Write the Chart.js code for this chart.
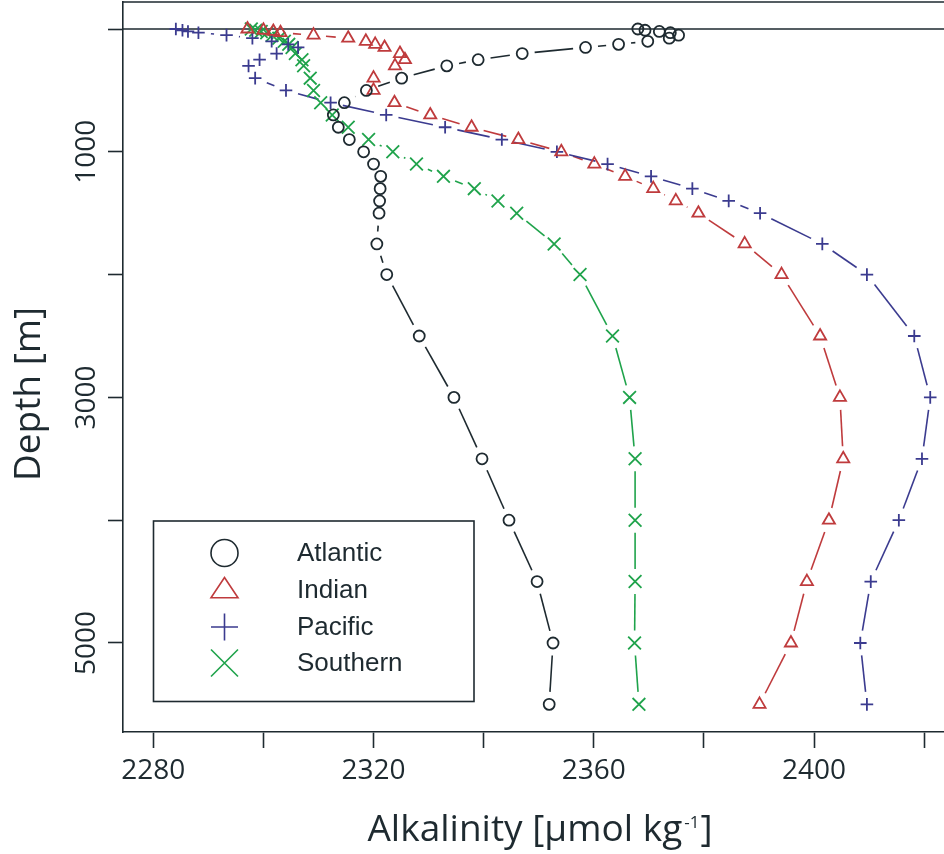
<!DOCTYPE html>
<html>
<head>
<meta charset="utf-8">
<title>Alkalinity profiles</title>
<script src="https://cdn.jsdelivr.net/npm/chart.js@4.4.1/dist/chart.umd.min.js"></script>
<style>
  html, body { margin: 0; padding: 0; background: #ffffff; }
  canvas { display: block; }
</style>
</head>
<body>
<canvas id="alkChart" width="944" height="854"></canvas>
<script>
// standard depth levels [m]
const depths = [0, 10, 20, 30, 50, 75, 100, 125, 150, 200, 250, 300, 400, 500, 600, 700, 800, 900,
  1000, 1100, 1200, 1300, 1400, 1500, 1750, 2000, 2500, 3000, 3500, 4000, 4500, 5000, 5500];

// alkalinity per basin [umol/kg]
const atlantic = [2368.0, 2369.3, 2371.9, 2373.9, 2375.4, 2373.7, 2369.8, 2364.5, 2358.5, 2347.0, 2339.0, 2333.3,
  2325.1, 2318.7, 2314.7, 2312.7, 2313.6, 2315.6, 2318.2, 2320.0, 2321.3, 2321.2, 2321.1, 2321.0, 2320.6, 2322.4,
  2328.3, 2334.6, 2339.7, 2344.6, 2349.7, 2352.6, 2351.9];
const indian = [2297.1, 2300.0, 2301.8, 2303.1, 2309.1, 2315.4, 2318.6, 2320.3, 2322.0, 2324.8, 2325.7, 2323.9,
  2320.0, 2320.0, 2323.8, 2330.3, 2337.8, 2346.3, 2354.1, 2360.1, 2365.7, 2370.8, 2374.9, 2379.0, 2387.4, 2394.1,
  2401.1, 2404.7, 2405.3, 2402.7, 2398.7, 2395.8, 2390.1];
const pacific = [2284.1, 2285.3, 2286.3, 2288.2, 2293.3, 2298.0, 2301.5, 2304.5, 2306.3, 2302.4, 2299.3, 2297.3,
  2298.5, 2304.1, 2312.2, 2322.3, 2333.0, 2343.3, 2353.3, 2362.5, 2370.4, 2377.9, 2384.5, 2390.2, 2401.5, 2409.6,
  2418.2, 2421.1, 2419.6, 2415.4, 2410.3, 2408.4, 2409.6];
const southern = [2297.8, 2298.6, 2299.6, 2300.6, 2301.6, 2302.8, 2303.8, 2304.6, 2305.2, 2305.8, 2307.0, 2307.3,
  2308.5, 2309.1, 2310.4, 2312.5, 2315.4, 2319.1, 2323.5, 2327.8, 2332.7, 2338.3, 2342.6, 2346.0, 2352.8, 2357.5,
  2363.4, 2366.5, 2367.5, 2367.5, 2367.5, 2367.4, 2368.2];

const seriesNames = ['Atlantic', 'Indian', 'Pacific', 'Southern'];

// axis ticks
const xTicks = [2280, 2300, 2320, 2340, 2360, 2380, 2400, 2420];
const xLabels = [2280, 2320, 2360, 2400];
const yTicks = [0, 1000, 2000, 3000, 4000, 5000];
const yLabels = [1000, 3000, 5000];
const surfaceDepth = 0;

const INK = '#1e2a30';
const TICK_FONT = '"Open Sans", "DejaVu Sans", sans-serif';
const LEGEND_FONT = '"Liberation Sans", Arial, sans-serif';
const GAP = 12.5; // R type="b" style gap around markers

function toPoints(values) {
  return values.map((v, i) => ({ x: v, y: depths[i] }));
}

const styles = [
  { color: '#1e2a30', pointStyle: 'circle', radius: 5.5 },
  { color: '#bf3b3d', pointStyle: 'triangle', radius: 7 },
  { color: '#3b3b8f', pointStyle: 'cross', radius: 6.3 },
  { color: '#1fa34b', pointStyle: 'crossRot', radius: 9 }
];

const allValues = [atlantic, indian, pacific, southern];

const datasets = allValues.map((vals, i) => ({
  label: seriesNames[i],
  data: toPoints(vals),
  showLine: false,
  borderColor: styles[i].color,
  backgroundColor: 'rgba(0,0,0,0)',
  pointStyle: styles[i].pointStyle,
  pointRadius: styles[i].radius,
  pointBorderWidth: 1.8,
  pointBorderColor: styles[i].color,
  pointBackgroundColor: 'rgba(0,0,0,0)'
}));

// line segments between points, shortened near each marker
const gappedLines = {
  id: 'gappedLines',
  beforeDatasetsDraw(chart) {
    const ctx = chart.ctx;
    const area = chart.chartArea;
    ctx.save();
    ctx.beginPath();
    ctx.rect(area.left, area.top, area.right - area.left, area.bottom - area.top);
    ctx.clip();
    chart.data.datasets.forEach((ds, i) => {
      const pts = chart.getDatasetMeta(i).data;
      ctx.strokeStyle = ds.borderColor;
      ctx.lineWidth = 1.6;
      for (let k = 0; k < pts.length - 1; k++) {
        const a = pts[k], b = pts[k + 1];
        const dx = b.x - a.x, dy = b.y - a.y;
        const len = Math.hypot(dx, dy);
        if (len <= 2 * GAP) continue;
        const ux = dx / len, uy = dy / len;
        ctx.beginPath();
        ctx.moveTo(a.x + ux * GAP, a.y + uy * GAP);
        ctx.lineTo(b.x - ux * GAP, b.y - uy * GAP);
        ctx.stroke();
      }
    });
    ctx.restore();
  }
};

// plot frame top + the surface line
const frame = {
  id: 'frame',
  beforeDatasetsDraw(chart) {
    const { ctx, chartArea: a, scales } = chart;
    const y0 = scales.y.getPixelForValue(surfaceDepth);
    ctx.save();
    ctx.strokeStyle = INK;
    ctx.lineWidth = 1.6;
    ctx.beginPath();
    ctx.moveTo(a.left, a.top);
    ctx.lineTo(a.right, a.top);
    ctx.moveTo(a.left, y0);
    ctx.lineTo(a.right, y0);
    ctx.stroke();
    ctx.restore();
  }
};

// axis titles (x title has a superscript)
const axisTitles = {
  id: 'axisTitles',
  afterDraw(chart) {
    const ctx = chart.ctx;
    ctx.save();
    ctx.fillStyle = INK;
    // y title
    ctx.translate(29, 394);
    ctx.rotate(-Math.PI / 2);
    ctx.font = '37px ' + TICK_FONT;
    ctx.textAlign = 'center';
    ctx.textBaseline = 'middle';
    ctx.fillText('Depth [m]', 0, 0);
    ctx.restore();

    ctx.save();
    ctx.fillStyle = INK;
    ctx.textBaseline = 'alphabetic';
    ctx.textAlign = 'left';
    const main = 'Alkalinity [μmol kg';
    const sup = '-1';
    const end = ']';
    ctx.font = '37px ' + TICK_FONT;
    const wMain = ctx.measureText(main).width;
    const wEnd = ctx.measureText(end).width;
    ctx.font = '17px ' + TICK_FONT;
    const wSup = ctx.measureText(sup).width;
    let x = 540 - (wMain + wSup + wEnd + 3) / 2;
    const base = 841;
    ctx.font = '37px ' + TICK_FONT;
    ctx.fillText(main, x, base);
    x += wMain + 2;
    ctx.font = '17px ' + TICK_FONT;
    ctx.fillText(sup, x, base - 13);
    x += wSup + 1;
    ctx.font = '37px ' + TICK_FONT;
    ctx.fillText(end, x, base);
    ctx.restore();
  }
};

function drawSymbol(ctx, style, x, y, r) {
  ctx.beginPath();
  if (style === 'circle') {
    ctx.arc(x, y, r, 0, Math.PI * 2);
  } else if (style === 'triangle') {
    const h = r * 1.5;
    ctx.moveTo(x, y - h * 0.62);
    ctx.lineTo(x + r, y + h * 0.38);
    ctx.lineTo(x - r, y + h * 0.38);
    ctx.closePath();
  } else if (style === 'cross') {
    ctx.moveTo(x - r, y); ctx.lineTo(x + r, y);
    ctx.moveTo(x, y - r); ctx.lineTo(x, y + r);
  } else {
    ctx.moveTo(x - r, y - r); ctx.lineTo(x + r, y + r);
    ctx.moveTo(x - r, y + r); ctx.lineTo(x + r, y - r);
  }
  ctx.stroke();
}

// boxed legend inside the plot, R style
const boxLegend = {
  id: 'boxLegend',
  afterDraw(chart) {
    const ctx = chart.ctx;
    const box = { left: 153.5, top: 521, right: 474, bottom: 701.5 };
    const rows = [553, 590, 627, 663];
    ctx.save();
    ctx.fillStyle = '#ffffff';
    ctx.fillRect(box.left, box.top, box.right - box.left, box.bottom - box.top);
    ctx.strokeStyle = INK;
    ctx.lineWidth = 1.6;
    ctx.strokeRect(box.left, box.top, box.right - box.left, box.bottom - box.top);
    chart.data.datasets.forEach((ds, i) => {
      ctx.strokeStyle = ds.borderColor;
      ctx.lineWidth = 1.6;
      drawSymbol(ctx, ds.pointStyle, 224.5, rows[i], 13.5);
      ctx.fillStyle = INK;
      ctx.font = '26px ' + LEGEND_FONT;
      ctx.textAlign = 'left';
      ctx.textBaseline = 'middle';
      ctx.fillText(ds.label, 297, rows[i] + 1);
    });
    ctx.restore();
  }
};

new Chart(document.getElementById('alkChart'), {
  type: 'scatter',
  data: { datasets },
  options: {
    responsive: false,
    animation: false,
    events: [],
    layout: { autoPadding: false, padding: { top: 2, right: 0, bottom: 0, left: 0 } },
    plugins: {
      legend: { display: false },
      tooltip: { enabled: false }
    },
    scales: {
      x: {
        type: 'linear',
        min: 2274.5,
        max: 2423.6,
        afterBuildTicks: axis => { axis.ticks = xTicks.map(v => ({ value: v })); },
        afterFit: axis => {
          axis.height = 122;
          axis.paddingLeft = 0;
          axis.paddingRight = 0;
        },
        grid: { display: true, drawOnChartArea: false, drawTicks: true, tickLength: 16, tickColor: INK, tickWidth: 1.6 },
        border: { display: true, color: INK, width: 1.6 },
        ticks: {
          autoSkip: false,
          maxRotation: 0,
          padding: 6,
          color: INK,
          font: { family: TICK_FONT, size: 28 },
          callback: v => xLabels.includes(v) ? String(v) : ''
        }
      },
      y: {
        type: 'linear',
        reverse: true,
        min: -220,
        max: 5725,
        afterBuildTicks: axis => { axis.ticks = yTicks.map(v => ({ value: v })); },
        afterFit: axis => {
          axis.width = 123;
          axis.paddingTop = 0;
          axis.paddingBottom = 0;
        },
        grid: { display: true, drawOnChartArea: false, drawTicks: true, tickLength: 15, tickColor: INK, tickWidth: 1.6 },
        border: { display: true, color: INK, width: 1.6 },
        ticks: {
          autoSkip: false,
          minRotation: 90,
          maxRotation: 90,
          crossAlign: 'center',
          padding: -11,
          color: INK,
          font: { family: TICK_FONT, size: 28 },
          callback: v => yLabels.includes(v) ? String(v) : ''
        }
      }
    }
  },
  plugins: [frame, gappedLines, axisTitles, boxLegend]
});
</script>
</body>
</html>
